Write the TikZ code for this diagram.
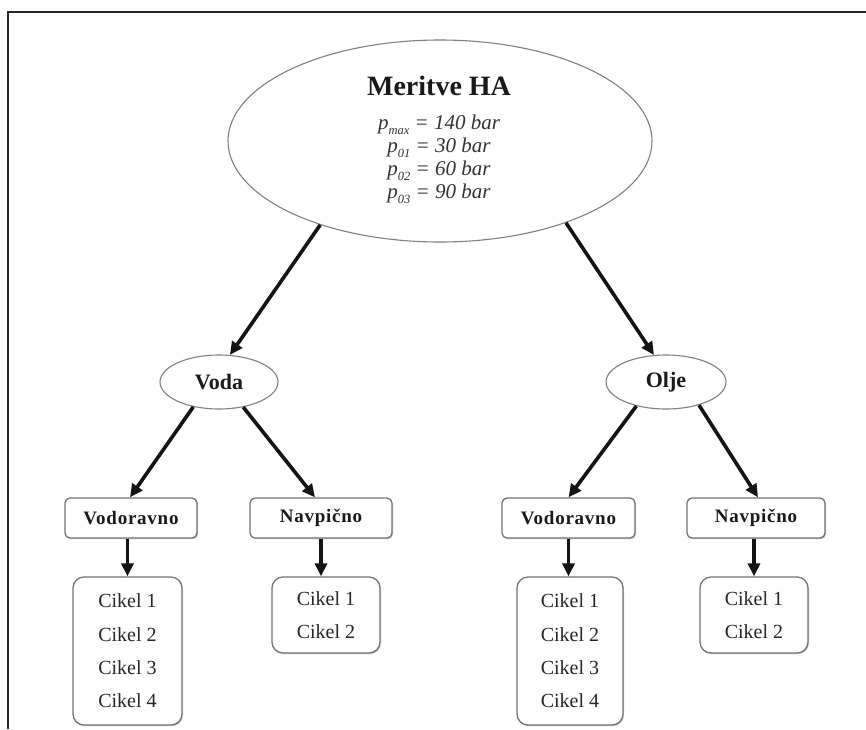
\documentclass[tikz,border=0pt]{standalone}
\usepackage{fontspec}
\setmainfont{Liberation Serif}
\newfontfamily\lsfont[LetterSpace=4]{Liberation Serif}
\usetikzlibrary{arrows.meta,shapes.geometric,shadows}
\newcommand\lowidx[1]{\raisebox{-0.22em}{\fontsize{12.5}{12.5}\selectfont\itshape #1}}
\begin{document}
\begin{tikzpicture}[x=1pt,y=-1pt,
  arr/.style={line width=3.6pt, draw=black!92, -{Triangle[length=13pt,width=12pt]}},
  ell/.style={ellipse, draw=black!50, line width=1.1pt, inner sep=0pt, fill=white},
  lbox/.style={rectangle, rounded corners=5pt, draw=black!55, line width=1.3pt, inner sep=0pt,
    fill=white, minimum height=40pt, text=black!90,
    font=\lsfont\fontsize{19}{20}\selectfont\bfseries,
    drop shadow={shadow xshift=1pt,shadow yshift=-1.2pt,fill=black!35,opacity=0.6}},
  cbox/.style={rectangle, rounded corners=11pt, draw=black!55, line width=1.3pt, inner sep=0pt,
    fill=white, align=center, text=black!85,
    font=\fontsize{20}{33.3}\selectfont,
    drop shadow={shadow xshift=1pt,shadow yshift=-1.2pt,fill=black!35,opacity=0.6}}
]
\useasboundingbox (0,0) rectangle (866,729);
\fill[white] (0,0) rectangle (866,729);
\coordinate (fbl) at (7.5,729);
\coordinate (ftl) at (7.5,11.5);
\coordinate (ftr) at (866,11.5);
\draw[line width=2pt, black!85] (fbl) -- (ftl) -- (ftr);

% top ellipse
\node[ell, minimum width=424pt, minimum height=202pt] (big) at (440,141) {};
\node[font=\fontsize{28}{30}\selectfont\bfseries, text=black!90] (title) at (439,86) {Meritve HA};
\node[font=\fontsize{21}{23}\selectfont\itshape, align=center, text=black!80] (pars) at (439,159)
  {p\lowidx{max} = 140 bar\\ p\lowidx{01} = 30 bar\\ p\lowidx{02} = 60 bar\\ p\lowidx{03} = 90 bar};

% middle ellipses
\node[ell, minimum width=118pt, minimum height=54pt, font=\fontsize{22}{24}\selectfont\bfseries, text=black!90] (voda) at (219,382) {Voda};
\node[ell, minimum width=120pt, minimum height=54pt, font=\fontsize{22}{24}\selectfont\bfseries, text=black!90] (olje) at (666,382) {Olje};

% label boxes
\node[lbox, minimum width=132pt] (vodL) at (131,518) {Vodoravno};
\node[lbox, minimum width=142pt] (navL) at (321,518) {Navpično};
\node[lbox, minimum width=133pt] (vodR) at (568.5,518) {Vodoravno};
\node[lbox, minimum width=138pt] (navR) at (756,518) {Navpično};

% cycle boxes
\node[cbox, minimum width=109pt, minimum height=148pt] (cikL1) at (127.5,651) {Cikel 1\\Cikel 2\\Cikel 3\\Cikel 4};
\node[cbox, minimum width=108pt, minimum height=76pt] (cikL2) at (326,615) {Cikel 1\\Cikel 2};
\node[cbox, minimum width=106pt, minimum height=148pt] (cikR1) at (570,651) {Cikel 1\\Cikel 2\\Cikel 3\\Cikel 4};
\node[cbox, minimum width=108pt, minimum height=76pt] (cikR2) at (754,615) {Cikel 1\\Cikel 2};

% arrows
\draw[arr] (big.215.7) -- (voda.68);
\draw[arr] (big.-33.4) -- (olje.114);
\draw[arr] (voda.224) -- ([xshift=-1pt]vodL.north);
\draw[arr] (voda.-46) -- ([xshift=-6pt]navL.north);
\draw[arr] (olje.219) -- (vodR.north);
\draw[arr] (olje.-35) -- ([xshift=2pt]navR.north);
\draw[arr] (cikL1.north |- vodL.south) -- (cikL1.north);
\draw[arr] (navL.south) -- (navL.south |- cikL2.north);
\draw[arr] (vodR.south) -- (vodR.south |- cikR1.north);
\draw[arr] (cikR2.north |- navR.south) -- (cikR2.north);
\end{tikzpicture}
\end{document}
